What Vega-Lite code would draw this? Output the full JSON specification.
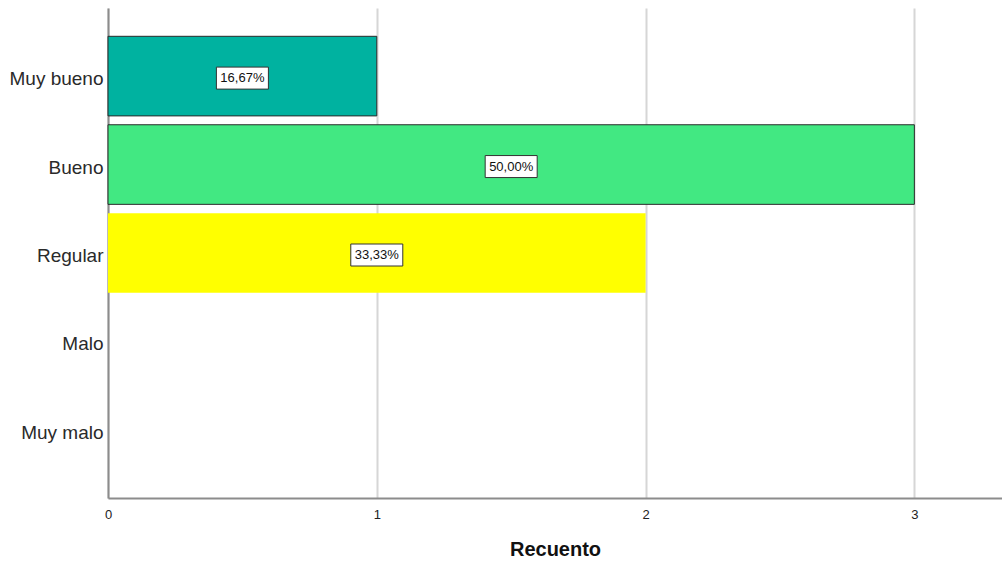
{
  "$schema": "https://vega.github.io/schema/vega-lite/v6.json",
  "width": 894,
  "height": 490,
  "autosize": {"type": "none"},
  "padding": {"left": 108, "top": 8, "right": 0, "bottom": 65},
  "background": "white",
  "config": {"view": {"stroke": null}, "font": "Liberation Sans"},
  "data": {
    "values": [
      {"categoria": "Muy bueno", "recuento": 1, "porcentaje": "16,67%"},
      {"categoria": "Bueno", "recuento": 3, "porcentaje": "50,00%"},
      {"categoria": "Regular", "recuento": 2, "porcentaje": "33,33%"}
    ]
  },
  "encoding": {
    "y": {
      "field": "categoria",
      "type": "nominal",
      "sort": null,
      "scale": {
        "domain": ["Muy bueno", "Bueno", "Regular", "Malo", "Muy malo"],
        "paddingInner": 0.1,
        "paddingOuter": 0.32
      },
      "axis": {
        "title": null,
        "ticks": false,
        "grid": false,
        "domainColor": "#8c8c8c",
        "domainWidth": 2,
        "labelFontSize": 19,
        "labelColor": "#2a2a2a",
        "labelPadding": 5,
        "labelOffset": 3
      }
    }
  },
  "layer": [
    {
      "mark": {"type": "bar", "stroke": "#2a2a2a", "strokeWidth": 1},
      "encoding": {
        "x": {
          "field": "recuento",
          "type": "quantitative",
          "scale": {"domain": [0, 3.326], "nice": false, "zero": true},
          "axis": {
            "values": [0, 1, 2, 3],
            "grid": true,
            "gridColor": "#d6d6d6",
            "gridWidth": 2,
            "domainColor": "#8c8c8c",
            "domainWidth": 2,
            "ticks": false,
            "labelFontSize": 13,
            "labelColor": "#222222",
            "labelPadding": 10,
            "labelFlush": false,
            "title": "Recuento",
            "titleFontSize": 20,
            "titleFontWeight": "bold",
            "titleColor": "#111111",
            "titlePadding": 18
          }
        },
        "color": {
          "field": "categoria",
          "type": "nominal",
          "scale": {
            "domain": ["Muy bueno", "Bueno", "Regular"],
            "range": ["#00b2a0", "#42e882", "#ffff00"]
          },
          "legend": null
        },
        "strokeOpacity": {
          "condition": {"test": "datum.categoria === 'Regular'", "value": 0},
          "value": 1
        }
      }
    },
    {
      "encoding": {
        "x": {
          "field": "recuento",
          "type": "quantitative",
          "scale": {"domain": [0, 6.652], "nice": false, "zero": true},
          "axis": null
        }
      },
      "layer": [
        {
          "mark": {
            "type": "point",
            "shape": "M-2.6,-1.1L2.6,-1.1L2.6,1.1L-2.6,1.1Z",
            "size": 400,
            "filled": true,
            "fill": "white",
            "stroke": "#333333",
            "strokeWidth": 1,
            "opacity": 1,
            "yOffset": 2
          }
        },
        {
          "mark": {"type": "text", "fontSize": 13, "color": "#111111", "baseline": "middle", "align": "center", "yOffset": 2},
          "encoding": {"text": {"field": "porcentaje"}}
        }
      ]
    }
  ],
  "resolve": {"scale": {"x": "independent"}}
}
